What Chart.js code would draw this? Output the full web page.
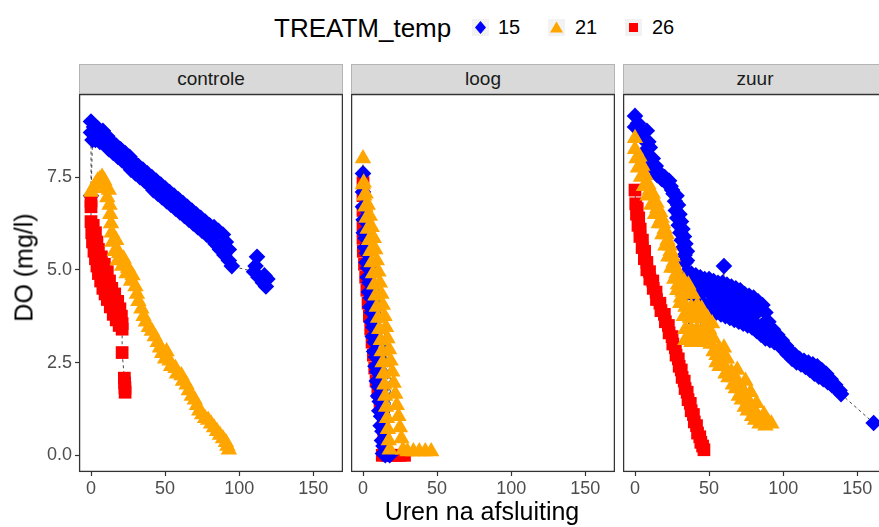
<!DOCTYPE html>
<html>
<head>
<meta charset="utf-8">
<script src="https://cdn.jsdelivr.net/npm/chart.js@4.4.1/dist/chart.umd.min.js"></script>
<style>
  body { margin: 0; width: 879px; height: 527px; overflow: hidden; position: relative; background: #fff;
         font-family: "Liberation Sans", Arial, sans-serif; }
  canvas { position: absolute; }
  .strip { position: absolute; top: 64px; height: 30px; background: #d9d9d9; border: 1px solid #b4b4b4;
           box-sizing: border-box; text-align: center; line-height: 28px; font-size: 19px; color: #1a1a1a; }
  .lg { position: absolute; white-space: nowrap; color: #000; }
  #xtitle { position: absolute; left: 282px; width: 400px; top: 497px; text-align: center; font-size: 25px; }
  #ytitle { position: absolute; left: -76px; top: 253px; width: 200px; text-align: center; font-size: 25px;
            transform: rotate(-90deg); }
</style>
</head>
<body>
<div id="legend"></div>
<div id="strips"></div>
<canvas id="p0" width="343" height="411" style="left:0;top:94px"></canvas>
<canvas id="p1" width="264" height="411" style="left:351px;top:94px"></canvas>
<canvas id="p2" width="264" height="411" style="left:623px;top:94px"></canvas>
<div id="xtitle">Uren na afsluiting</div>
<div id="ytitle">DO (mg/l)</div>
<script>
// facets and groups
const panels = ['controle', 'loog', 'zuur'];
const temps = ['15', '21', '26'];
const xTicks = [0, 50, 100, 150];
const yTicks = [0, 2.5, 5, 7.5];

// [uren, DO]
const controle15 = [[0,9.0],[0,8.7],[0,7.0],[1,8.5],[2,8.85],[3,8.5],[5,8.8],[6,8.45],[8,8.75],[9,8.4],[11,8.6],[12,8.25],
  [14,8.45],[15,8.15],[17,8.35],[18,8.05],[20,8.25],[21,7.95],[23,8.15],[24,7.85],[26,8.05],[27,7.7],[29,7.9],[30,7.6],
  [32,7.8],[33,7.5],[35,7.7],[36,7.4],[38,7.6],[39,7.3],[41,7.5],[42,7.15],[44,7.4],[45,7.05],[47,7.3],[48,6.95],[50,7.2],
  [51,6.85],[53,7.1],[54,6.75],[56,7.0],[57,6.65],[59,6.9],[60,6.55],[62,6.8],[63,6.45],[65,6.7],[66,6.35],[68,6.6],[69,6.25],
  [71,6.5],[72,6.15],[74,6.4],[75,6.05],[77,6.3],[78,5.95],[80,6.2],[81,5.85],[83,6.15],[84,5.7],[86,6.05],[87,5.55],[89,5.95],
  [90,5.4],[91,5.75],[93,5.25],[93,5.55],[95,5.1],[110,4.95],[111,5.1],[112,5.35],[113,4.8],[116,4.65],[117,4.85],[118,4.55],[119,4.75]];
const controle21 = [[0,7.1],[1.5,7.2],[3,7.3],[4.5,7.4],[6,7.45],[7.5,7.5],[9,7.4],[10,7.2],[12,7.15],[11,6.95],[12.5,6.75],
  [13,6.5],[13.5,6.25],[14,6.0],[14.5,5.75],[17,5.8],[16,5.5],[19,5.45],[18,5.25],[22,5.3],[21,5.1],[25,5.05],[24,4.9],[28,4.85],
  [27,4.7],[30,4.55],[31,4.35],[32,4.15],[34,3.95],[35.5,3.75],[37,3.6],[39,3.45],[41,3.35],[43,3.2],[45,3.05],[46.5,2.9],[48,2.75],
  [51,2.8],[50,2.6],[53,2.55],[54,2.4],[57,2.35],[58,2.2],[61,2.15],[62,2.0],[64.5,1.9],[66,1.75],[68,1.6],[70,1.5],[71.5,1.35],
  [73,1.2],[75,1.1],[77,1.0],[79,0.95],[81,0.85],[83,0.75],[85,0.65],[87,0.55],[89,0.45],[91,0.35],[92,0.25],[93,0.15]];
const controle26 = [[0,6.85],[0,6.7],[0,6.3],[0.5,6.0],[1,5.75],[2,5.5],[3,5.3],[4,5.1],[5,4.9],[6.5,4.7],[8,4.5],[9.5,4.35],
  [11,4.2],[13,4.0],[15,3.8],[17,3.65],[19,3.5],[1.5,6.2],[3,6.0],[4,5.75],[5,5.55],[7,5.35],[9,5.15],[11,4.95],[12.5,4.7],
  [14,4.5],[16,4.35],[18,4.15],[19.5,3.95],[20.5,3.75],[21,3.55],[21,3.4],[21,2.77],[22.5,2.08],[22.7,1.95],[22.9,1.82],[23,1.7]];
const loog15 = [[0,7.6],[0,7.1],[0,6.7],[0.4,6.35],[0.5,6.0],[1.7,5.85],[1.4,5.6],[2.6,5.45],[2.3,5.2],[3.4,5.05],[3.1,4.8],
  [4.3,4.65],[4.0,4.4],[5.2,4.25],[4.9,4.0],[6.1,3.85],[5.8,3.6],[7.0,3.45],[6.6,3.2],[7.8,3.05],[7.5,2.8],[8.7,2.65],[8.4,2.4],
  [9.6,2.25],[9.3,2.0],[10.5,1.85],[10.2,1.6],[11.3,1.45],[11.0,1.2],[12.2,1.05],[11.9,0.8],[13.1,0.65],[12.8,0.4],[13.8,0.25],
  [13.5,0.05],[15,0.0],[16.5,0.05],[18,0.0]];
const loog21 = [[0,8.0],[0,7.3],[0.8,7.0],[1.6,6.7],[2.4,6.4],[3.2,6.1],[4.1,5.8],[5,5.5],[5.8,5.2],[6.7,4.9],[7.6,4.6],[8.4,4.3],
  [9.3,4.0],[10.2,3.7],[11,3.4],[12,3.1],[12.6,2.8],[13.2,2.5],[13.8,2.2],[14.4,1.9],[15,1.6],[15.6,1.3],[16.2,1.0],[16.8,0.7],
  [17.4,0.4],[18,0.15],[0.5,7.35],[1.8,7.05],[3.2,6.75],[4.6,6.45],[5.9,6.15],[7.3,5.85],[8.3,5.55],[9.3,5.25],[10.4,4.95],
  [11.4,4.65],[12.4,4.35],[13.4,4.05],[14.5,3.75],[15.5,3.45],[16.5,3.15],[17.6,2.85],[18.6,2.55],[19.7,2.25],[20.7,1.95],
  [21.8,1.65],[22.8,1.35],[23.9,1.05],[24.9,0.75],[25.9,0.45],[27,0.15],[30,0.1],[34,0.1],[38,0.1],[42,0.1],[46,0.1]];
const loog26 = [[0,7.35],[0,7.0],[0,6.6],[0,6.2],[0,5.85],[0.2,5.5],[1,5.15],[1.8,4.8],[2.6,4.45],[3.4,4.1],[4.3,3.75],[5.2,3.4],
  [6.1,3.05],[7,2.7],[7.9,2.35],[8.8,2.0],[10,1.7],[11.5,1.45],[12.8,1.2],[13.8,0.9],[14,0.6],[14.2,0.3],[13,0.0],[16,0.0],
  [19,0.0],[22,0.0],[25,0.0],[28,0.0]];
const zuur15 = [[0,9.15],[0,8.85],[2,8.95],[3,8.8],[5,8.55],[6,8.7],[8,8.75],[9,8.45],[8,8.25],[10,8.3],[10,8.05],[12,8.0],
  [11,7.85],[14,7.8],[13,7.7],[17,7.6],[15,7.55],[20,7.5],[18,7.45],[23,7.4],[21,7.35],[24,7.25],[25,7.15],[26,7.05],[28,7.0],
  [27,6.85],[29,6.75],[27.5,6.6],[30,6.5],[28.5,6.4],[31,6.3],[29.5,6.2],[32,6.1],[30.5,6.0],[33,5.9],[31.5,5.8],[34,5.7],
  [32.5,5.6],[35,5.5],[33.5,5.4],[35,5.25],[34,5.2],
  [35,4.95],[38,4.9],[41,4.85],[44,4.8],[47,4.75],[50,4.75],[53,4.7],[56,4.65],[59,4.65],[60,5.1],[62,4.6],[65,4.55],[68,4.5],
  [71,4.45],[74,4.35],[77,4.3],[80,4.25],[83,4.15],[86,4.05],[88,3.85],[90,3.6],[93,3.4],[96,3.25],[99,3.1],[102,2.95],[105,2.8],
  [108,2.7],[111,2.6],[114,2.55],[117,2.5],[120,2.45],[123,2.4],[126,2.3],[129,2.2],[132,2.05],[135,1.9],[138,1.75],
  [37,4.7],[43,4.6],[49,4.5],[55,4.45],[60,4.4],[66,4.3],[72,4.2],[78,4.1],[84,3.95],[90,3.35],
  [40,4.55],[46,4.45],[52,4.3],[57,4.25],[63,4.15],[69,4.05],[75,3.95],[81,3.8],[87,3.55],
  [55,4.05],[61,4.0],[67,3.9],[73,3.8],[79,3.65],
  [34,4.55],[37,4.4],[40,4.3],[43,4.2],[46,4.1],[49,4.0],[52,3.9],[55,3.85],[58,3.8],[61,3.75],[64,3.7],[67,3.65],[70,3.6],
  [73,3.55],[76,3.5],[79,3.45],[82,3.35],[85,3.25],[88,3.15],[91,3.1],[94,3.05],[97,2.98],[100,2.85],[103,2.72],[106,2.6],
  [109,2.5],[112,2.45],[115,2.38],[118,2.3],[121,2.2],[124,2.12],[127,2.05],[130,1.97],[133,1.88],[136,1.78],[139,1.65],[161,0.87]];
const zuur21 = [[0,8.55],[0,8.25],[1,8.0],[3,8.05],[2,7.75],[5,7.8],[4,7.5],[7,7.55],[6,7.25],[9,7.3],[8.5,7.0],[10,7.15],[12,7.05],
  [11,6.75],[14.5,6.8],[13.5,6.5],[15,6.65],[17,6.55],[16,6.25],[18,6.4],[19,6.25],[18.5,5.95],[20,6.1],[21.5,5.95],[20.5,5.65],
  [22,5.8],[23.5,5.65],[22.5,5.35],[24,5.5],[25.5,5.35],[24.5,5.05],[26,5.2],[27.5,5.05],[26.5,4.75],[28,4.9],[29,4.6],
  [30,4.8],[33,4.7],[36,4.6],[28.5,4.45],[31,4.25],[32,4.4],[35.5,4.35],[39,4.35],
  [30.5,4.1],[34,4.0],[38,4.0],[42,4.05],[45,3.95],[36,3.85],[40,3.85],[44,3.85],[33,3.75],[37,3.7],[41,3.7],[45,3.7],[49,3.7],
  [48,3.55],[34,3.4],[38,3.4],[42,3.4],[46,3.4],[50,3.4],[52,3.55],[36,3.25],[40,3.25],[44,3.25],[48,3.25],
  [34,3.1],[38,3.05],[42,3.05],[46,3.05],[50,3.1],[53,3.15],[51,3.0],[53,2.8],[56.5,2.85],[60,2.9],[55,2.7],[58,2.7],
  [55,2.5],[58.5,2.55],[62,2.6],[57,2.4],[60,2.4],[61,2.2],[65,2.25],[69,2.3],[63,2.1],[67,2.1],[66,1.9],[70,1.95],[74.5,2.0],
  [68,1.8],[72,1.8],[70,1.6],[74,1.65],[78,1.7],[72,1.5],[76,1.5],
  [74,1.3],[78,1.35],[82,1.4],[76,1.2],[80,1.2],[79,1.05],[83,1.05],[87,1.1],[81,0.95],[85,0.95],[84,0.85],[88,0.8],[90,0.9],[92,0.85]];
const zuur26 = [[0,7.15],[0.5,6.78],[1.5,6.65],[1,6.5],[2.5,6.4],[2,6.2],[3.5,6.1],[3.3,5.9],[5,5.8],[4.8,5.6],[6.5,5.5],
  [6.3,5.3],[8,5.2],[8,5.0],[9.8,4.95],[10,4.75],[12,4.7],[12.3,4.5],[14.2,4.4],[14.5,4.2],[16.8,4.1],[17.5,3.9],[19.8,3.8],
  [20.5,3.6],[22.5,3.5],[23,3.3],[25,3.2],[25.5,3.0],[27.2,2.9],[27.7,2.7],[29.2,2.6],[29.8,2.4],[31.2,2.3],[31.8,2.1],
  [33.2,2.0],[33.8,1.8],[35.2,1.7],[35.8,1.5],[37.3,1.4],[37.9,1.2],[39.4,1.1],[40,0.9],[41.5,0.8],[42.2,0.6],[43.7,0.5],
  [44.4,0.35],[45.6,0.25],[46.5,0.15]];

const seriesByPanel = {
  controle: { '15': controle15, '21': controle21, '26': controle26 },
  loog: { '15': loog15, '21': loog21, '26': loog26 },
  zuur: { '15': zuur15, '21': zuur21, '26': zuur26 }
};
// bottom -> top
const drawOrder = {
  controle: ['15', '26', '21'],
  loog: ['26', '15', '21'],
  zuur: ['26', '15', '21']
};

const colours = { '15': '#0000ff', '21': '#ffa500', '26': '#ff0000' };
const shapes = { '15': 'rectRot', '21': 'triangle', '26': 'rect' };
const radii = { '15': 8.3, '21': 9.5, '26': 9 };

const font = '"Liberation Sans", Arial, sans-serif';

// strips
const stripLeft = [79, 351, 623];
panels.forEach((p, i) => {
  const d = document.createElement('div');
  d.className = 'strip';
  d.style.left = stripLeft[i] + 'px';
  d.style.width = '264px';
  d.textContent = p;
  document.getElementById('strips').appendChild(d);
});

// legend
const legend = document.getElementById('legend');
function lg(html, left, top, size) {
  const d = document.createElement('div');
  d.className = 'lg';
  d.style.left = left + 'px';
  d.style.top = top + 'px';
  d.style.fontSize = size + 'px';
  d.innerHTML = html;
  legend.appendChild(d);
}
lg('TREATM_temp', 274, 13, 26);
const keyX = [472, 548, 625];
const labX = [498, 575, 652];
const keySvg = {
  '15': '<polygon points="8.5,2 14,8.5 8.5,15 3,8.5" fill="#0000ff"/>',
  '21': '<polygon points="8.5,2.5 15,13.5 2,13.5" fill="#ffa500"/>',
  '26': '<rect x="4" y="4" width="9" height="9" fill="#ff0000"/>'
};
temps.forEach((t, i) => {
  lg('<svg width="17" height="17" style="display:block"><rect width="17" height="17" fill="#f2f2f2"/>' + keySvg[t] + '</svg>', keyX[i], 19, 10);
  lg(t, labX[i], 16, 20);
});

const panelBorder = {
  id: 'panelBorder',
  afterDraw(chart) {
    const { ctx, chartArea: a } = chart;
    ctx.save();
    ctx.strokeStyle = '#333';
    ctx.lineWidth = 1.3;
    ctx.strokeRect(a.left + 0.6, a.top + 0.6, a.right - a.left - 1.2, a.bottom - a.top - 1.2);
    ctx.restore();
  }
};

function makePanel(idx) {
  const name = panels[idx];
  const order = drawOrder[name];
  const datasets = temps.map(t => {
    const pts = seriesByPanel[name][t].slice().sort((a, b) => a[0] - b[0]);
    return {
      label: t,
      data: pts.map(p => ({ x: p[0], y: p[1] })),
      showLine: true,
      borderColor: 'rgba(40,40,40,0.85)',
      borderWidth: 1,
      borderDash: [3, 3],
      pointStyle: shapes[t],
      pointRadius: radii[t],
      pointBackgroundColor: colours[t],
      pointBorderColor: colours[t],
      pointBorderWidth: 0,
      order: order.length - 1 - order.indexOf(t)
    };
  });
  new Chart(document.getElementById('p' + idx), {
    type: 'scatter',
    data: { datasets },
    options: {
      responsive: false,
      animation: false,
      devicePixelRatio: 1,
      layout: { padding: 0, autoPadding: false },
      plugins: { legend: { display: false }, tooltip: { enabled: false } },
      scales: {
        x: {
          type: 'linear', min: -8.1, max: 170,
          afterBuildTicks: s => { s.ticks = xTicks.map(v => ({ value: v })); },
          afterFit: s => { s.height = 33; s.paddingLeft = 0; s.paddingRight = 0; },
          grid: { drawOnChartArea: false, drawTicks: true, tickLength: 4, tickColor: '#333', tickWidth: 1.2 },
          border: { display: false },
          ticks: { color: '#4d4d4d', font: { family: font, size: 18 }, padding: 2, maxRotation: 0, autoSkip: false,
                   callback: v => String(v) }
        },
        y: {
          display: idx === 0, min: -0.45, max: 9.74,
          afterBuildTicks: s => { s.ticks = yTicks.map(v => ({ value: v })); },
          afterFit: s => { s.width = idx === 0 ? 79 : 0; s.paddingTop = 0; s.paddingBottom = 0; },
          grid: { drawOnChartArea: false, drawTicks: true, tickLength: 4, tickColor: '#333', tickWidth: 1.2 },
          border: { display: false },
          ticks: { color: '#4d4d4d', font: { family: font, size: 18 }, padding: 3, callback: v => v.toFixed(1) }
        }
      }
    },
    plugins: [panelBorder]
  });
}
panels.forEach((p, i) => makePanel(i));
</script>
</body>
</html>
